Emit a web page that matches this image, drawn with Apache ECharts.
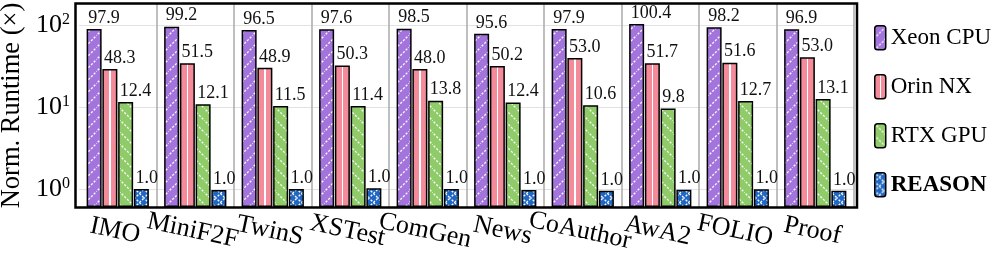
<!DOCTYPE html>
<html><head><meta charset="utf-8">
<script src="https://cdn.jsdelivr.net/npm/echarts@6/dist/echarts.min.js"></script>
<style>html,body{margin:0;padding:0;background:#fff}#c{width:996px;height:257px}</style>
</head><body><div id="c"></div>
<script>
const categories = ['IMO','MiniF2F','TwinS','XSTest','ComGen','News','CoAuthor','AwA2','FOLIO','Proof'];
const seriesNames = ['Xeon CPU','Orin NX','RTX GPU','REASON'];
// bar heights as drawn
const xeonValues = [89, 95, 87, 88.5, 90, 78, 89, 103, 94, 88.5];
const orinValues = [29, 34, 30, 32, 29, 31.6, 39.6, 34, 34.7, 40.4];
const rtxValues = [11.5, 10.8, 10.3, 10.3, 11.9, 11.3, 10.5, 9.6, 11.8, 12.5];
const reasonValues = [1.0, 0.97, 1.0, 1.02, 1.0, 0.97, 0.95, 0.98, 0.99, 0.95];
// printed labels
const xeonLabels = ['97.9','99.2','96.5','97.6','98.5','95.6','97.9','100.4','98.2','96.9'];
const orinLabels = ['48.3','51.5','48.9','50.3','48.0','50.2','53.0','51.7','51.6','53.0'];
const rtxLabels = ['12.4','12.1','11.5','11.4','13.8','12.4','10.6','9.8','12.7','13.1'];
const reasonLabels = ['1.0','1.0','1.0','1.0','1.0','1.0','1.0','1.0','1.0','1.0'];
const yTickExponents = [0, 1, 2];

const FONT = '"Liberation Serif", "DejaVu Serif", serif';
const Y_MIN = 0.603, Y_MAX = 180;

function hatch(bg, kind, size) {
  const c = document.createElement('canvas');
  c.width = size; c.height = size;
  const g = c.getContext('2d');
  g.fillStyle = bg; g.fillRect(0, 0, size, size);
  g.strokeStyle = '#fff'; g.lineWidth = 1.3; g.setLineDash([2.2, 1.6]);
  const line = (x1, y1, x2, y2) => { g.beginPath(); g.moveTo(x1, y1); g.lineTo(x2, y2); g.stroke(); };
  if (kind === '/' || kind === 'x') { line(-1, size + 1, size + 1, -1); }
  if (kind === '\\' || kind === 'x') { line(-1, -1, size + 1, size + 1); }
  return { image: c, repeat: 'repeat' };
}
const pinkFill = {
  type: 'linear', x: 0, y: 0, x2: 1, y2: 0,
  colorStops: [
    { offset: 0, color: '#f48b9b' }, { offset: 0.45, color: '#f48b9b' },
    { offset: 0.45, color: '#ffffff' }, { offset: 0.55, color: '#ffffff' },
    { offset: 0.55, color: '#f48b9b' }, { offset: 1, color: '#f48b9b' }
  ]
};
const fills = [hatch('#a374db', '/', 12), pinkFill, hatch('#8fcb68', '\\', 12), hatch('#1f67c2', 'x', 9)];
const valuesList = [xeonValues, orinValues, rtxValues, reasonValues];
const labelsList = [xeonLabels, orinLabels, rtxLabels, reasonLabels];

const BW = 15;
const series = seriesNames.map((name, si) => ({
  name: name,
  type: 'bar',
  barWidth: BW,
  barGap: '5%',
  data: valuesList[si],
  itemStyle: { color: fills[si], borderColor: '#000', borderWidth: 1.5 },
  label: {
    show: true, position: 'top', align: 'left', distance: 2,
    offset: [-BW / 2 + 1.5, 0],
    fontFamily: FONT, fontSize: 18, color: '#111',
    formatter: p => labelsList[si][p.dataIndex]
  }
}));

const chart = echarts.init(document.getElementById('c'), null, { renderer: 'canvas' });
chart.setOption({
  animation: false,
  backgroundColor: '#fff',
  grid: { left: 79, right: 142, top: 4, bottom: 50, containLabel: false, outerBoundsMode: 'none' },
  xAxis: {
    type: 'category', data: categories, boundaryGap: true,
    axisLine: { show: false }, axisTick: { show: false },
    splitLine: { show: true, interval: (i) => i > 0 && i < categories.length, lineStyle: { color: '#aaaaaa', width: 1.5 } },
    axisLabel: { interval: 0, rotate: -12, margin: 11, fontFamily: FONT, fontSize: 26, color: '#000', align: 'center', verticalAlign: 'top' }
  },
  yAxis: {
    type: 'log', logBase: 10, min: Y_MIN, max: Y_MAX, startValue: Y_MIN,
    axisLine: { show: false }, axisTick: { show: false },
    splitLine: { show: true, lineStyle: { color: '#e2e2e2', width: 1.2 } },
    name: 'Norm. Runtime (×)', nameLocation: 'middle', nameGap: 51,
    nameTextStyle: { fontFamily: FONT, fontSize: 26.5, color: '#000' },
    axisLabel: {
      margin: 9,
      formatter: v => {
        const e = Math.round(Math.log10(v));
        if (Math.abs(Math.log10(v) - e) > 1e-6 || yTickExponents.indexOf(e) < 0) return '';
        return '{b|10}{s|' + e + '}';
      },
      rich: {
        b: { fontFamily: FONT, fontSize: 26, color: '#000' },
        s: { fontFamily: FONT, fontSize: 16, color: '#000', verticalAlign: 'top' }
      }
    }
  },
  legend: {
    orient: 'vertical', left: 869, top: 20, itemWidth: 11, itemHeight: 24, itemGap: 23.5,
    formatter: n => n === 'REASON' ? '{bold|' + n + '}' : n,
    textStyle: {
      fontFamily: FONT, fontSize: 23, color: '#000',
      rich: { bold: { fontFamily: FONT, fontSize: 23, fontWeight: 'bold', color: '#000' } }
    },
    itemStyle: { borderColor: '#000', borderWidth: 1.5 },
    data: seriesNames
  },
  graphic: [{
    type: 'rect', z: 100, silent: true,
    shape: { x: 75.5, y: 3.5, width: 781.5, height: 204 },
    style: { fill: 'none', stroke: '#000', lineWidth: 2.5 }
  }],
  series: series
});
</script></body></html>
